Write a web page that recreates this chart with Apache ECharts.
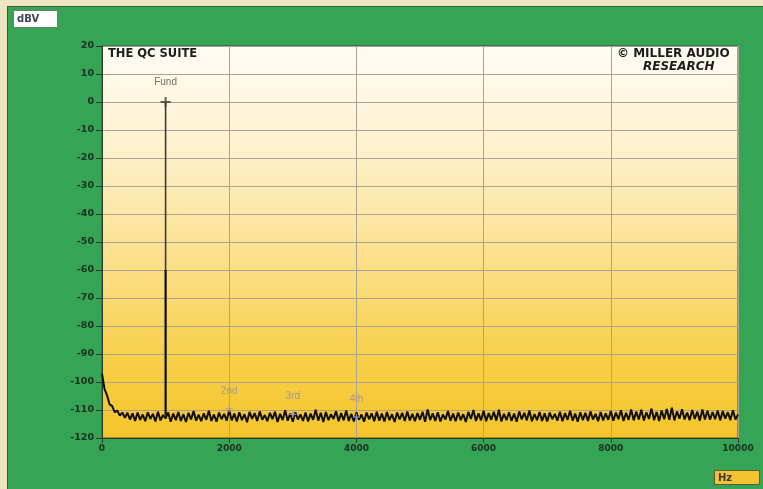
<!DOCTYPE html>
<html>
<head>
<meta charset="utf-8">
<style>
  html, body { margin: 0; padding: 0; background: #EEE5C2; width: 763px; height: 489px; overflow: hidden; }
  #chart { position: absolute; left: 7px; top: 6px; width: 756px; height: 483px;
           border-left: 1px solid #3f5a3a; border-top: 1px solid #3f5a3a; }
</style>
<script src="https://cdn.jsdelivr.net/npm/echarts@6/dist/echarts.min.js"></script>
</head>
<body>
<div id="chart"></div>
<script>
// FFT spectrum of a 1 kHz tone: frequency bins every 40 Hz, level in dBV
const binStepHz = 40;
const noiseFloor = [
  -97, -102.5, -104.8, -108, -108.6, -110.8, -110.2, -112, -110.9, -112.8,
  -111.0, -113.4, -111.2, -113.9, -110.9, -113.5, -111.6, -114.0, -110.8, -113.2,
  -111.4, -114.1, -110.6, -113.7, -111.8, -113.0, -110.9, -114.2, -111.3, -113.6,
  -110.7, -113.9, -111.5, -114.3, -111.0, -113.4, -110.4, -113.8, -111.7, -114.0,
  -111.2, -113.5, -110.3, -113.9, -111.6, -114.2, -110.9, -113.3, -111.4, -113.8,
  -110.2, -113.7, -111.3, -114.1, -110.8, -113.6, -111.5, -114.4, -110.7, -113.2,
  -111.1, -113.9, -110.5, -113.5, -111.8, -114.0, -111.0, -113.3, -110.6, -114.3,
  -111.4, -113.6, -110.1, -113.8, -111.2, -114.2, -110.8, -113.4, -111.6, -113.9,
  -110.9, -114.1, -111.3, -113.5, -109.9, -113.8, -111.0, -114.3, -110.7, -113.6,
  -111.5, -113.2, -110.4, -114.0, -111.1, -113.7, -110.2, -113.9, -111.4, -114.1,
  -110.8, -113.5, -111.6, -114.2, -110.9, -113.3, -111.2, -114.0, -110.6, -113.8,
  -111.3, -114.1, -110.7, -113.6, -111.5, -114.3, -110.9, -113.4, -111.0, -113.9,
  -110.5, -113.7, -111.4, -114.0, -111.1, -113.5, -110.6, -114.2, -109.8, -113.6,
  -111.2, -113.9, -110.8, -114.1, -111.6, -113.4, -110.4, -113.8, -111.3, -114.0,
  -110.9, -113.6, -111.5, -114.3, -110.7, -113.2, -110.0, -113.9, -111.2, -113.7,
  -110.3, -114.0, -111.1, -113.5, -110.6, -113.8, -109.9, -114.1, -111.4, -113.6,
  -110.8, -113.9, -111.3, -114.2, -110.5, -113.4, -111.0, -113.7, -110.2, -114.0,
  -111.5, -113.6, -110.7, -113.9, -111.2, -114.1, -110.9, -113.3, -111.4, -113.8,
  -110.6, -114.0, -111.1, -113.5, -110.3, -113.8, -111.3, -114.2, -110.8, -113.6,
  -111.0, -113.9, -110.5, -113.4, -111.4, -114.0, -110.7, -113.7, -111.2, -113.5,
  -110.4, -113.8, -110.9, -113.3, -110.1, -113.9, -111.0, -113.5, -109.8, -113.7,
  -110.6, -113.4, -109.9, -113.8, -110.8, -113.2, -109.5, -113.6, -110.7, -113.9,
  -110.2, -113.3, -109.6, -113.5, -109.2, -113.7, -110.5, -113.1, -109.7, -113.4,
  -110.9, -113.6, -110.0, -113.2, -110.6, -113.8, -109.8, -113.4, -110.3, -113.5,
  -110.7, -113.3, -110.2, -113.7, -110.4, -113.1, -110.8, -113.6, -110.1, -113.4,
  -111.6
];

// Fundamental and harmonic peaks
const fundamental = { freq: 1000, level: 0, base: -112, knee: -60, label: 'Fund' };
const harmonicFreqs = [2000, 3000, 4000];
const harmonicLevels = [-109.5, -111.5, -112.5];
const harmonicNames = ['2nd', '3rd', '4th'];

// Axis ranges / ticks
const xMin = 0, xMax = 10000, xStep = 2000;
const yMin = -120, yMax = 20, yStep = 10;

const spectrum = noiseFloor.map((v, i) => [i * binStepHz, v]);
const harmonics = harmonicFreqs.map((f, i) => ({ value: [f, harmonicLevels[i]], name: harmonicNames[i] }));

const plusPath = 'path://M-1,-5H1V-1H5V1H1V5H-1V1H-5V-1H-1Z';
const labelFont = 'DejaVu Sans, Liberation Sans, sans-serif';
const plainFont = 'Liberation Sans, Arial, sans-serif';

const chart = echarts.init(document.getElementById('chart'), null, { renderer: 'canvas' });
chart.setOption({
  backgroundColor: '#35A455',
  animation: false,
  title: [
    { text: 'dBV', left: 5, top: 3, padding: [4, 19, 4, 4],
      backgroundColor: '#FFFFFF', borderColor: '#6b7d6b', borderWidth: 1,
      textStyle: { fontSize: 10, fontWeight: 'bold', color: '#3a4456', fontFamily: labelFont } },
    { text: 'Hz', left: 706, top: 463, padding: [3, 28, 2, 4],
      backgroundColor: '#F4C430', borderColor: '#5d5a3a', borderWidth: 1,
      textStyle: { fontSize: 10, fontWeight: 'bold', color: '#3a3a3a', fontFamily: labelFont } },
    { text: 'THE QC SUITE', left: 100, top: 41, padding: 0,
      textStyle: { fontSize: 11.5, fontWeight: 'bold', color: '#1e1e1e', fontFamily: labelFont } },
    { text: '© MILLER AUDIO', left: 609, top: 41, padding: 0,
      textStyle: { fontSize: 12, fontWeight: 'bold', color: '#1e1e1e', fontFamily: labelFont } },
    { text: 'RESEARCH', left: 635, top: 54, padding: 0,
      textStyle: { fontSize: 12, fontWeight: 'bold', fontStyle: 'italic', color: '#1e1e1e', fontFamily: labelFont } }
  ],
  grid: {
    left: 94, right: 26, top: 39, bottom: 52, show: true,
    borderColor: '#4a4a3a', borderWidth: 1,
    backgroundColor: {
      type: 'linear', x: 0, y: 0, x2: 0, y2: 1,
      colorStops: [
        { offset: 0, color: '#FFFCF4' },
        { offset: 0.25, color: '#FEF2CF' },
        { offset: 0.55, color: '#FBE08A' },
        { offset: 0.8, color: '#F7CF48' },
        { offset: 1, color: '#F4C42A' }
      ]
    }
  },
  xAxis: {
    type: 'value', min: xMin, max: xMax, interval: xStep,
    axisLine: { show: true, onZero: false, lineStyle: { color: '#2f3a2f', width: 1 } },
    axisTick: { show: true, length: 5, lineStyle: { color: '#2f3a2f' } },
    axisLabel: { fontSize: 9, fontWeight: 'bold', color: '#1f2f22', margin: 6, fontFamily: labelFont,
                 formatter: v => String(v) },
    splitLine: { show: true, lineStyle: { color: '#ABA392', width: 1 } }
  },
  yAxis: {
    type: 'value', min: yMin, max: yMax, interval: yStep,
    axisLine: { show: true, lineStyle: { color: '#2f3a2f', width: 1 } },
    axisTick: { show: true, length: 6, lineStyle: { color: '#2f3a2f' } },
    axisLabel: { fontSize: 9.5, fontWeight: 'bold', color: '#1f2f22', margin: 8, fontFamily: labelFont },
    splitLine: { show: true, lineStyle: { color: '#ABA392', width: 1 } }
  },
  series: [
    {
      type: 'line', data: spectrum, symbol: 'none', silent: true,
      lineStyle: { color: '#111111', width: 2 }, z: 3
    },
    {
      type: 'line', symbol: 'none', silent: true,
      data: [[fundamental.freq, fundamental.base], [fundamental.freq, fundamental.knee]],
      lineStyle: { color: '#0c0c0c', width: 2.2 }, z: 4
    },
    {
      type: 'line', symbol: 'none', silent: true,
      data: [[fundamental.freq, fundamental.knee], [fundamental.freq, fundamental.level]],
      lineStyle: { color: '#3c3c38', width: 1.6 }, z: 4
    },
    {
      type: 'scatter', symbol: plusPath, symbolSize: 10, silent: true, z: 5,
      data: [[fundamental.freq, fundamental.level]],
      itemStyle: { color: '#3a3a36' },
      label: { show: true, position: 'top', distance: 10, formatter: fundamental.label,
               fontSize: 10, color: '#4d4d48', fontFamily: plainFont }
    },
    {
      type: 'scatter', symbol: plusPath, symbolSize: 7, silent: true, z: 5,
      data: harmonics,
      itemStyle: { color: '#9A9AB8' },
      label: { show: true, position: 'top', distance: 9, formatter: p => p.name,
               fontSize: 10, color: '#8E8EA8', fontFamily: plainFont }
    }
  ]
});
</script>
</body>
</html>
